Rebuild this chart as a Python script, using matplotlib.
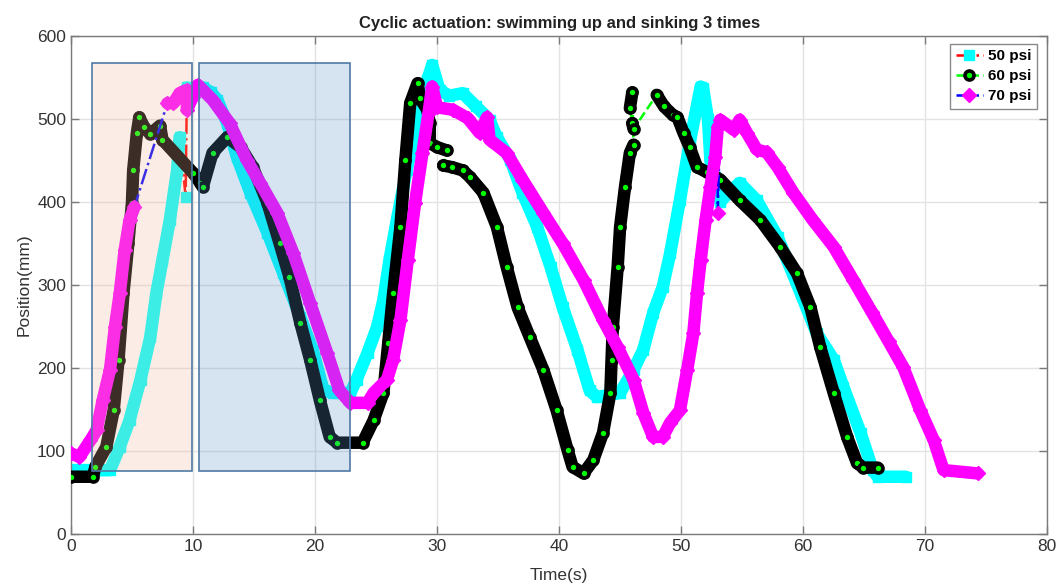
import numpy as np
import matplotlib
matplotlib.use('Agg')
import matplotlib.pyplot as plt
from matplotlib.lines import Line2D
from matplotlib.patches import Rectangle

plt.rcParams['font.family'] = ['Liberation Sans', 'DejaVu Sans']

# ---------------- data ----------------
t50 = [0, 2.4, 3.2, 4.0, 4.8, 5.7, 6.5, 7.0, 7.5, 8.1, 8.7, 8.9,
       9.4,
       9.5, 10.0, 10.8, 11.5, 12.0, 12.8, 13.6, 14.7, 16.1, 17.4, 18.8, 19.8, 20.7,
       21.5, 22.9, 23.4, 24.3, 25.1, 25.6, 26.1, 26.7, 27.5, 28.3, 29.2, 29.6, 30.2,
       31.0, 32.1, 33.2, 34.3, 34.9, 36.0, 37.0, 38.2, 39.3, 40.3, 41.5, 42.5, 43.1,
       45.0, 46.1, 46.9, 47.7, 48.5, 49.1, 49.9, 50.7, 51.6, 51.8, 52.2, 52.4, 52.8,
       53.2, 53.8, 54.8, 56.2, 57.9, 59.8, 61.1, 62.5, 63.3, 64.7, 65.7, 66.1, 68.4]
p50 = [77, 77, 77, 105, 137, 186, 237, 290, 330, 378, 438, 478,
       406,
       538, 535, 538, 532, 523, 495, 454, 411, 363, 314, 261, 222, 173,
       170, 170, 186, 218, 250, 282, 330, 378, 438, 490, 547, 565, 535,
       528, 531, 515, 499, 478, 451, 411, 370, 322, 273, 222, 173, 165,
       170, 198, 222, 266, 298, 338, 402, 471, 539, 537, 500, 450, 430,
       400, 410, 423, 402, 358, 290, 242, 210, 177, 122, 77, 69, 69]
brk50 = [12, 13]

t60 = [0, 1.8, 2.0, 2.9, 3.5, 3.9, 4.3, 4.7, 5.0, 5.1, 5.4, 5.6, 6.0, 6.5, 7.3,
       7.5, 10.0, 10.6, 10.8, 11.6, 12.8, 13.9, 14.9, 16.1, 17.1, 17.9, 18.8, 19.6,
       20.4, 21.2, 21.8, 23.9, 24.8, 25.6, 26.0, 26.4, 27.0, 27.4, 27.8, 28.4, 28.6,
       29.2, 29.4, 29.4, 30.0, 30.8,
       30.5, 31.2, 32.1, 32.7, 33.8, 34.9, 35.7, 36.6, 37.6, 38.7, 39.8, 40.7, 41.1,
       42.0, 42.8, 43.6, 44.2, 44.3, 44.4, 44.8, 45.0, 45.4, 45.8, 46.1,
       46.0, 45.8,
       46.0, 46.1,
       48.0, 48.6, 49.3, 49.7, 50.2, 50.7, 51.3, 52.1, 53.2, 54.8, 56.5, 58.1, 59.5,
       60.6, 61.4, 62.5, 63.6, 64.4, 64.9, 66.1]
p60 = [69, 69, 81, 105, 149, 210, 290, 350, 399, 438, 483, 502, 490, 482, 492,
       475, 435, 423, 418, 459, 478, 466, 442, 399, 350, 310, 254, 210,
       161, 117, 110, 110, 137, 170, 230, 290, 370, 450, 519, 543, 525,
       511, 495, 471, 466, 462,
       444, 442, 438, 430, 411, 370, 322, 273, 237, 198, 149, 101, 81,
       73, 89, 122, 170, 210, 249, 322, 370, 418, 459, 469,
       532, 513,
       495, 488,
       529, 515, 505, 502, 483, 466, 442, 436, 427, 402, 378, 346, 314,
       273, 225, 170, 117, 86, 80, 80]
brk60 = [46, 70, 72, 74]

t70 = [0, 0.7, 1.6, 2.1, 2.6, 3.2, 3.6, 4.0, 4.4, 4.8, 5.2,
       7.9, 8.4, 8.9, 9.5, 9.5, 10.0, 10.4, 11.6, 13.0, 14.4, 15.5, 16.9, 18.2,
       19.6, 21.0, 22.0, 22.9, 24.3, 24.8, 25.9, 26.4, 27.0, 27.6, 28.2, 28.8, 29.3,
       29.6, 30.0, 31.3, 32.5, 33.5, 34.1, 34.3, 35.7, 37.0, 38.7, 40.3, 42.0, 43.6,
       44.8, 46.1, 46.9, 47.7, 48.5, 49.1, 49.9, 50.5, 51.0, 51.3, 51.6, 52.0, 52.4,
       52.8, 53.0,
       53.0,
       53.2, 54.3, 54.8, 55.4, 56.2, 57.0, 57.9, 59.2, 60.8, 62.5, 64.1, 65.6, 67.0,
       68.2, 69.6, 70.7, 71.5, 74.3]
p70 = [97, 93, 113, 125, 161, 198, 249, 290, 342, 378, 394,
       519, 519, 531, 535, 511, 527, 541, 523, 495, 451, 423, 387, 339,
       278, 218, 173, 158, 158, 170, 186, 210, 258, 330, 399, 459, 507,
       539, 514, 511, 501, 483, 502, 475, 459, 427, 387, 350, 306, 258,
       225, 186, 146, 117, 117, 134, 149, 198, 242, 290, 330, 378, 418,
       454, 490,
       387,
       499, 487, 499, 483, 463, 460, 442, 411, 378, 346, 306, 268, 232,
       201, 149, 113, 77, 73]
brk70 = [11, 65, 66]

labels = ['50 psi', '60 psi', '70 psi']

rect1 = (1.72, 76, 9.92, 567)
rect2 = (10.5, 76, 22.9, 567)

# ---------------- figure ----------------
fig = plt.figure(figsize=(10.59, 5.86), dpi=100)
ax = fig.add_axes([0.067, 0.0887, 0.9219, 0.85])

def draw(t, p, brk, band, line_c, ls, marker, mfc, mec, ms, mew, z):
    t = np.asarray(t, float)
    p = np.asarray(p, float)
    ax.plot(t, p, ls=ls, color=line_c, lw=1.8, zorder=z)
    edges = [0] + list(brk) + [len(t)]
    for a, b in zip(edges[:-1], edges[1:]):
        ax.plot(t[a:b], p[a:b], '-', color=band, lw=9,
                solid_joinstyle='round', solid_capstyle='round', zorder=z + 0.1)
    ax.plot(t, p, ls='none', marker=marker, mfc=mfc, mec=mec, ms=ms, mew=mew,
            zorder=z + 0.2)

draw(t50, p50, brk50, '#00ffff', 'red', '-.', 's', '#00ffff', '#00ffff', 7, 1, 2)
draw(t60, p60, brk60, 'black', '#00ff00', '--', 'o', '#00ff00', 'black', 6.5, 2.6, 3)
draw(t70, p70, brk70, '#ff00ff', 'blue', '-.', 'D', '#ff00ff', '#ff00ff', 7, 1, 4)

for (x0, y0, x1, y1), fc in [(rect1, (0.94, 0.72, 0.60)), (rect2, (0.36, 0.58, 0.80))]:
    ax.add_patch(Rectangle((x0, y0), x1 - x0, y1 - y0, facecolor=fc, alpha=0.25,
                           edgecolor='none', zorder=6))
    ax.add_patch(Rectangle((x0, y0), x1 - x0, y1 - y0, facecolor='none',
                           edgecolor='#4f7aa6', lw=1.2, zorder=6.1))

ax.set_xlim(0, 80)
ax.set_ylim(0, 600)
ax.set_xticks(np.arange(0, 81, 10))
ax.set_yticks(np.arange(0, 601, 100))
ax.grid(True, color='#e3e3e3', lw=1)
ax.set_axisbelow(True)
ax.tick_params(direction='in', top=True, right=True, length=6, width=1,
               colors='#7a7a7a', labelcolor='#333333', labelsize=12.5)
for s in ax.spines.values():
    s.set_color('#7a7a7a')
    s.set_linewidth(1)

ax.set_title('Cyclic actuation: swimming up and sinking 3 times', fontsize=12,
             fontweight='bold', color='#222222', pad=6)
ax.set_xlabel('Time(s)', fontsize=12.5, color='#333333', labelpad=10)
ax.set_ylabel('Position(mm)', fontsize=12.5, color='#333333', labelpad=4)

handles = [
    Line2D([], [], color='red', ls='-.', lw=1.8, marker='s', mfc='#00ffff', mec='#00ffff', ms=7),
    Line2D([], [], color='#00ff00', ls='--', lw=1.8, marker='o', mfc='#00ff00', mec='black', ms=6.5, mew=2.6),
    Line2D([], [], color='blue', ls='-.', lw=1.8, marker='D', mfc='#ff00ff', mec='#ff00ff', ms=7),
]
leg = ax.legend(handles, labels, loc='upper right', fancybox=False, framealpha=1,
                edgecolor='#8a8a8a', prop={'size': 11, 'weight': 'bold'},
                handlelength=1.8, handletextpad=0.3, borderpad=0.35,
                labelspacing=0.4, borderaxespad=0,
                bbox_to_anchor=(0.989, 0.984))
leg.set_zorder(10)

fig.savefig('out.png', dpi=100)
